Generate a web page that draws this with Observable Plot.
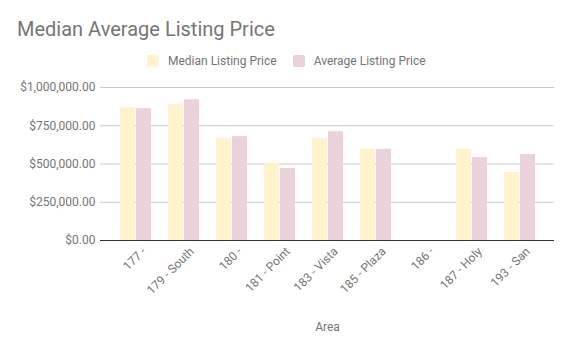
<!DOCTYPE html>
<html>
<head>
<meta charset="utf-8">
<script src="https://cdn.jsdelivr.net/npm/d3@7"></script>
<script src="https://cdn.jsdelivr.net/npm/@observablehq/plot@0.6"></script>
<style>
  html, body { margin: 0; padding: 0; background: #fff; }
  #wrap { position: relative; width: 572px; height: 353px; font-family: Roboto, sans-serif; }
  #title { position: absolute; left: 17px; top: 17px; font-size: 20px; color: #757575; white-space: nowrap; }
  #legend { position: absolute; left: 147px; top: 54px; font-size: 12px; line-height: 14px; color: #757575; display: flex; align-items: center; white-space: nowrap; }
  .sw { display: inline-block; width: 12px; height: 12px; border-radius: 2px; margin-right: 9px; }
  .item { display: flex; align-items: center; margin-right: 16px; }
  #chart { position: absolute; left: 0; top: 0; }
</style>
</head>
<body>
<div id="wrap">
  <div id="chart"></div>
  <div id="title">Median Average Listing Price</div>
  <div id="legend"></div>
</div>
<script>
const areas = ["177 -", "179 - South", "180 -", "181 - Point", "183 - Vista", "185 - Plaza", "186 -", "187 - Holy", "193 - San"];
const medianPrice = [868000, 888000, 666000, 503000, 666000, 596000, 0, 596000, 444000];
const averagePrice = [862000, 920000, 679000, 470000, 711000, 596000, 0, 542000, 561000];
const seriesNames = ["Median Listing Price", "Average Listing Price"];
const seriesColors = ["#fff2cc", "#ead1dc"];
const yTicks = [0, 250000, 500000, 750000, 1000000];

const rows = areas.map((a, i) => ({area: a, median: medianPrice[i], average: averagePrice[i]}));

const legend = document.getElementById("legend");
seriesNames.forEach((n, i) => {
  const it = document.createElement("div");
  it.className = "item";
  it.innerHTML = `<span class="sw" style="background:${seriesColors[i]}"></span><span>${n}</span>`;
  legend.appendChild(it);
});

const fmt = d3.format("$,.2f");
const chart = Plot.plot({
  width: 572,
  height: 353,
  marginLeft: 100,
  marginRight: 18,
  marginTop: 87,
  marginBottom: 113,
  style: {fontFamily: "Roboto, sans-serif", fontSize: "12px", color: "#757575", background: "transparent"},
  x: {domain: areas, padding: 0.36},
  y: {domain: [0, 1000000]},
  marks: [
    Plot.ruleY(yTicks.slice(1), {stroke: "#cccccc", strokeWidth: 1}),
    Plot.barY(rows, {x: "area", y: "median", fill: seriesColors[0], insetRight: 16}),
    Plot.barY(rows, {x: "area", y: "average", fill: seriesColors[1], insetLeft: 16}),
    Plot.ruleY([0], {stroke: "#333333", strokeWidth: 1}),
    Plot.axisY({ticks: yTicks, tickFormat: fmt, tickSize: 0, tickPadding: 5, label: null, fill: "#757575", fontSize: 12}),
    Plot.axisX({tickSize: 0, tickRotate: -45, tickPadding: 6, dx: 8, dy: 3, label: "Area", labelAnchor: "center", labelOffset: 90, fill: "#757575", fontSize: 12})
  ]
});
document.getElementById("chart").appendChild(chart);
</script>
</body>
</html>
